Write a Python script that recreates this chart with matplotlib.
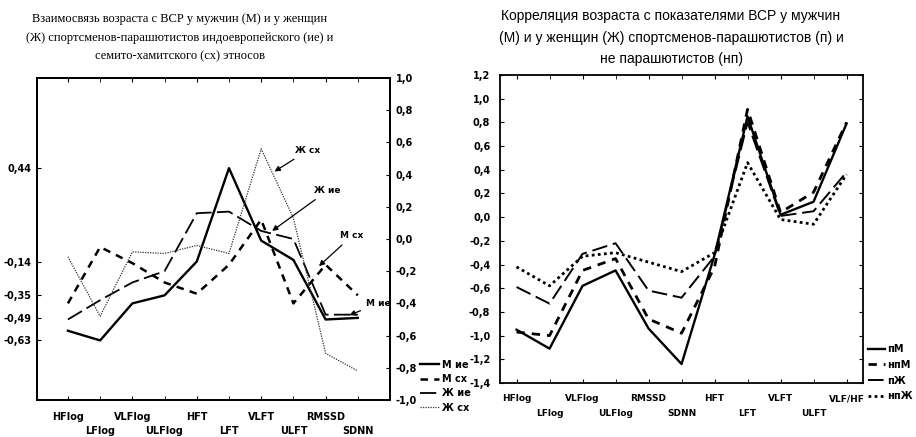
import numpy as np
import matplotlib.pyplot as plt

plt.rcParams['font.family'] = ['Liberation Sans Narrow', 'DejaVu Sans']

# left chart: ethnic groups
left_cats = ['HFlog', 'LFlog', 'VLFlog', 'ULFlog', 'HFT', 'LFT', 'VLFT', 'ULFT', 'RMSSD', 'SDNN']
m_ie = [-0.57, -0.63, -0.40, -0.35, -0.14, 0.44, -0.01, -0.13, -0.50, -0.49]
m_sh = [-0.40, -0.05, -0.15, -0.27, -0.34, -0.16, 0.12, -0.40, -0.16, -0.35]
zh_ie = [-0.50, -0.38, -0.27, -0.20, 0.16, 0.17, 0.05, 0.00, -0.47, -0.47]
zh_sh = [-0.11, -0.48, -0.08, -0.09, -0.04, -0.09, 0.56, 0.13, -0.71, -0.82]
left_marks = [0.44, -0.14, -0.35, -0.49, -0.63]

# right chart: parachutists vs non-parachutists
right_cats = ['HFlog', 'LFlog', 'VLFlog', 'ULFlog', 'RMSSD', 'SDNN', 'HFT', 'LFT', 'VLFT', 'ULFT', 'VLF/HF']
p_m = [-0.95, -1.11, -0.58, -0.45, -0.94, -1.24, -0.32, 0.85, 0.02, 0.13, 0.79]
np_m = [-0.97, -1.00, -0.45, -0.35, -0.86, -0.98, -0.42, 0.91, 0.04, 0.21, 0.80]
p_zh = [-0.59, -0.73, -0.31, -0.22, -0.62, -0.68, -0.33, 0.80, 0.01, 0.05, 0.38]
np_zh = [-0.42, -0.58, -0.33, -0.30, -0.38, -0.46, -0.30, 0.46, -0.02, -0.06, 0.36]

title_left = ('Взаимосвязь возраста с ВСР у мужчин (М) и у женщин\n'
              '(Ж) спортсменов-парашютистов индоевропейского (ие) и\n'
              'семито-хамитского (сх) этносов')
title_right = ('Корреляция возраста с показателями ВСР у мужчин\n'
               '(М) и у женщин (Ж) спортсменов-парашютистов (п) и\n'
               'не парашютистов (нп)')


def comma(v, nd):
    s = '{:.{}f}'.format(v, nd).replace('.', ',')
    return '0,0' if s in ('-0,0', '-0,00') else s


def frame(ax, lw=1.3):
    for s in ax.spines.values():
        s.set_linewidth(lw)


def stagger(ax, cats, size, pad_hi, pad_lo):
    # even categories on the upper row, odd ones on the lower row
    x = np.arange(len(cats))
    ax.set_xticks(x[::2])
    ax.set_xticklabels(cats[::2], fontsize=size, fontweight='bold')
    ax.set_xticks(x[1::2], minor=True)
    ax.set_xticklabels(cats[1::2], minor=True, fontsize=size, fontweight='bold')
    ax.tick_params(axis='x', which='major', direction='in', length=3, pad=pad_hi, top=True)
    ax.tick_params(axis='x', which='minor', direction='in', length=3, pad=pad_lo, top=True)


fig = plt.figure(figsize=(9.16, 4.37), dpi=100)
bold = dict(fontsize=7, fontweight='bold')

# ---------- left ----------
ax1 = fig.add_axes([0.0404, 0.0847, 0.3854, 0.7368])
x1 = np.arange(len(left_cats))
ax1.plot(x1, m_ie, color='black', lw=1.7, label='М ие')
ax1.plot(x1, m_sh, color='black', lw=1.8, dashes=(3, 2.5), label='М сх')
ax1.plot(x1, zh_ie, color='black', lw=1.3, dashes=(9, 3), label='Ж ие')
ax1.plot(x1, zh_sh, color='#333333', lw=0.9, dashes=(1, 1), label='Ж сх')
ax1.set_xlim(-0.96, 10.0)
ax1.set_ylim(-1.0, 1.0)
stagger(ax1, left_cats, 7, 9, 19)
ax1.set_yticks(left_marks)
ax1.set_yticklabels([comma(v, 2) for v in left_marks], **bold)
ax1.tick_params(axis='y', direction='in', length=3, pad=4)
frame(ax1)

ax1r = ax1.twinx()
ax1r.set_ylim(-1.0, 1.0)
rt = np.round(np.arange(-1.0, 1.01, 0.2), 1)
ax1r.set_yticks(rt)
ax1r.set_yticklabels([comma(v, 1) for v in rt], **bold)
ax1r.tick_params(axis='y', direction='in', length=3, pad=4)
frame(ax1r)

arrow = dict(arrowstyle='-|>', color='black', lw=0.9, mutation_scale=8)
ax1.annotate('Ж сх', xy=(6.34, 0.41), xytext=(7.45, 0.55), ha='center', va='center',
             arrowprops=arrow, fontsize=6.5, fontweight='bold')
ax1.annotate('Ж ие', xy=(6.27, 0.04), xytext=(8.06, 0.30), ha='center', va='center',
             arrowprops=arrow, fontsize=6.5, fontweight='bold')
ax1.annotate('М сх', xy=(7.73, -0.18), xytext=(8.82, 0.02), ha='center', va='center',
             arrowprops=arrow, fontsize=6.5, fontweight='bold')
ax1.annotate('М ие', xy=(8.66, -0.48), xytext=(9.63, -0.40), ha='center', va='center',
             arrowprops=arrow, fontsize=6.5, fontweight='bold')

ax1.legend(loc='lower left', bbox_to_anchor=(1.085, -0.04), frameon=False,
           prop=dict(size=7, weight='bold'), handlelength=2.0, handletextpad=0.3,
           labelspacing=0.45, borderpad=0, borderaxespad=0)

fig.text(180 / 916, 1 - 13 / 437, title_left, ha='center', va='top',
         fontsize=9, family='Liberation Serif', linespacing=1.75)

# ---------- right ----------
ax2 = fig.add_axes([0.5459, 0.1236, 0.3963, 0.7048])
x2 = np.arange(len(right_cats))
ax2.plot(x2, p_m, color='black', lw=1.7, label='пМ')
ax2.plot(x2, np_m, color='black', lw=2.0, dashes=(3, 2.5), label='нпМ')
ax2.plot(x2, p_zh, color='black', lw=1.4, dashes=(8, 3), label='пЖ')
ax2.plot(x2, np_zh, color='black', lw=2.0, dashes=(1, 1.2), label='нпЖ')
ax2.set_xlim(-0.5, 10.5)
ax2.set_ylim(-1.4, 1.2)
stagger(ax2, right_cats, 6.5, 8, 19)
yt = np.round(np.arange(-1.4, 1.21, 0.2), 1)
ax2.set_yticks(yt)
ax2.set_yticklabels([comma(v, 1) for v in yt], **bold)
ax2.tick_params(axis='y', direction='in', length=3, pad=7, right=True)
frame(ax2)

ax2.legend(loc='lower left', bbox_to_anchor=(1.014, -0.06), frameon=False,
           prop=dict(size=7, weight='bold'), handlelength=1.7, handletextpad=0.3,
           labelspacing=0.6, borderpad=0, borderaxespad=0)

fig.text(671 / 916, 1 - 9 / 437, title_right, ha='center', va='top',
         fontsize=10, family=['Liberation Sans', 'DejaVu Sans'], linespacing=1.7)

fig.savefig('out.png', dpi=100)
